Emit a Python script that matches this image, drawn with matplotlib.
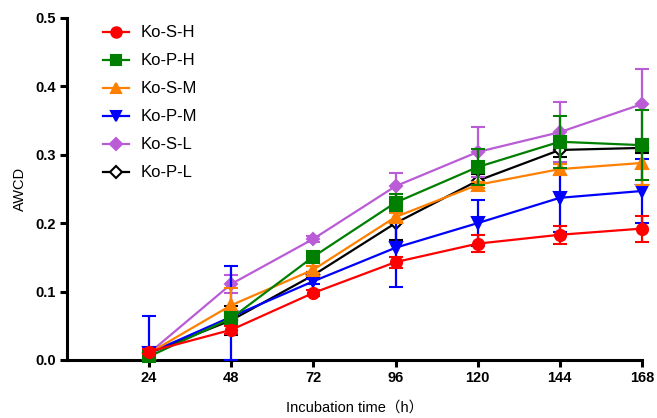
import matplotlib.pyplot as plt
from matplotlib.lines import Line2D
import numpy as np

plt.rcParams["font.family"] = ["Liberation Sans", "Noto Sans CJK SC", "DejaVu Sans"]

hours = [24, 48, 72, 96, 120, 144, 168]

labels = ["Ko-S-H", "Ko-P-H", "Ko-S-M", "Ko-P-M", "Ko-S-L", "Ko-P-L"]

ko_s_h = [0.012, 0.044, 0.098, 0.143, 0.170, 0.183, 0.192]
ko_p_h = [0.005, 0.061, 0.151, 0.230, 0.282, 0.319, 0.314]
ko_s_m = [0.010, 0.080, 0.132, 0.209, 0.256, 0.279, 0.288]
ko_p_m = [0.010, 0.063, 0.115, 0.164, 0.200, 0.237, 0.247]
ko_s_l = [0.010, 0.111, 0.177, 0.254, 0.304, 0.333, 0.374]
ko_p_l = [0.010, 0.058, 0.124, 0.200, 0.262, 0.307, 0.310]

err_s_h = [0.004, 0.006, 0.004, 0.008, 0.012, 0.013, 0.019]
err_p_h = [0.003, 0.006, 0.004, 0.012, 0.026, 0.038, 0.051]
err_s_m = [0.003, 0.025, 0.005, 0.006, 0.004, 0.008, 0.032]
err_p_m = [0.054, 0.075, 0.004, 0.057, 0.034, 0.050, 0.047]
err_s_l = [0.003, 0.013, 0.004, 0.020, 0.037, 0.044, 0.051]
err_p_l = [0.003, 0.021, 0.004, 0.025, 0.010, 0.010, 0.008]

series = [
    (ko_s_h, err_s_h, "#ff0000", "o", "#ff0000"),
    (ko_p_h, err_p_h, "#007f00", "s", "#007f00"),
    (ko_s_m, err_s_m, "#ff8000", "^", "#ff8000"),
    (ko_p_m, err_p_m, "#0000ff", "v", "#0000ff"),
    (ko_s_l, err_s_l, "#b95cd6", "D", "#b95cd6"),
    (ko_p_l, err_p_l, "#000000", "D", "white"),
]

fig = plt.figure(figsize=(6.57, 4.18), dpi=100)
ax = fig.add_axes([0.102, 0.139, 0.875, 0.818])

handles = []
n = len(series)
for i, (vals, errs, col, mk, fc) in enumerate(series):
    ms = 6.5 if mk == "D" else 8
    vals = np.array(vals)
    errs = np.array(errs)
    lower = np.minimum(errs, vals)  # bars stop at the x axis
    h = ax.errorbar(hours, vals, yerr=[lower, errs], color=col, marker=mk, ms=ms,
                    mfc=fc, mec=col, mew=1.5, lw=1.6, elinewidth=1.6,
                    capsize=5, capthick=1.6, zorder=10 + (n - i),
                    clip_on=False)
    for art in h.lines[1] + h.lines[2]:
        art.set_clip_on(False)
    handles.append(Line2D([], [], color=col, marker=mk, ms=ms - 0.5, mfc=fc,
                          mec=col, mew=1.5, lw=1.6, label=labels[i]))

ax.set_xlim(0, 168)
ax.set_ylim(0, 0.5)
ax.set_xticks(hours)
ax.set_yticks(np.arange(0, 0.51, 0.1))
ax.set_yticklabels([f"{v:.1f}" for v in np.arange(0, 0.51, 0.1)])

for s in ["top", "right"]:
    ax.spines[s].set_visible(False)
for s in ["left", "bottom"]:
    ax.spines[s].set_linewidth(2.2)
ax.tick_params(width=2.2, length=5, direction="out", labelsize=10.5, pad=3)
for t in ax.get_xticklabels() + ax.get_yticklabels():
    t.set_fontweight("bold")

ax.set_xlabel("Incubation time\uff08h\uff09", fontsize=10.5, labelpad=11)
ax.set_ylabel("AWCD", fontsize=10.5, labelpad=6)

ax.legend(handles=handles, loc="upper left", bbox_to_anchor=(0.036, 1.022),
          frameon=False, fontsize=12, handlelength=1.6,
          labelspacing=0.78, handletextpad=0.7)

fig.savefig("out.png", dpi=100)
